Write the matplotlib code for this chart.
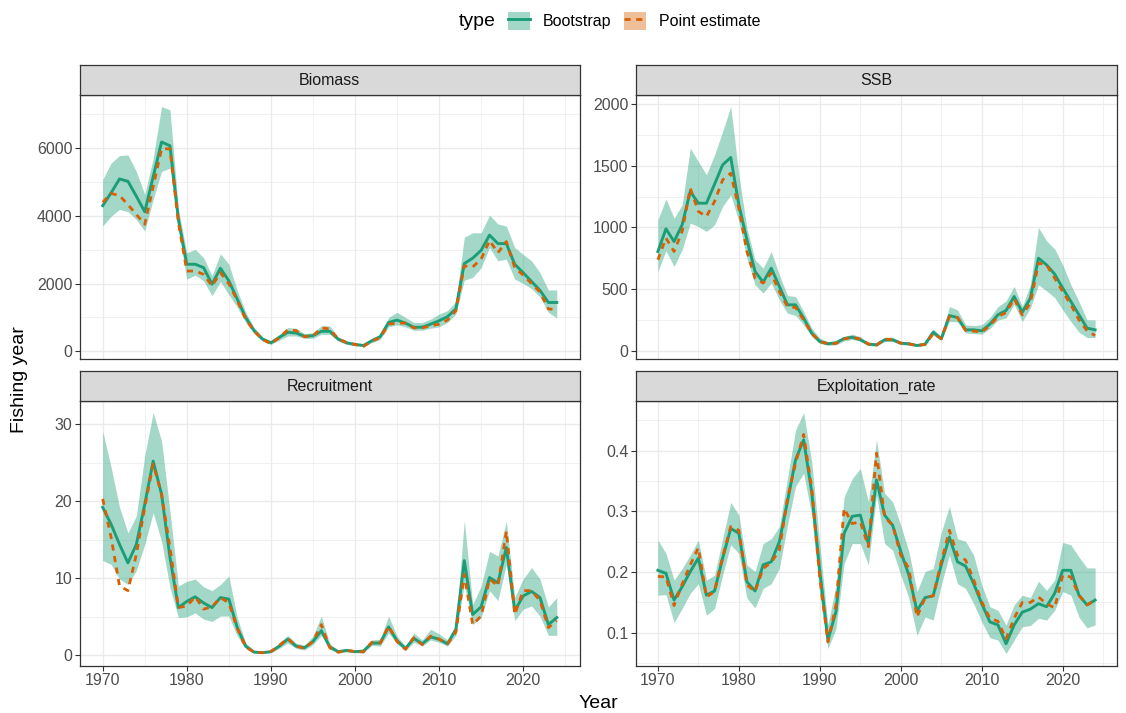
import numpy as np
import matplotlib
matplotlib.use("Agg")
import matplotlib.pyplot as plt
from matplotlib.patches import Patch
from matplotlib.lines import Line2D
from matplotlib.ticker import MultipleLocator

plt.rcParams['font.family'] = ['Liberation Sans', 'DejaVu Sans']

# data
years = np.arange(1970, 2025)

biomass_boot = [4300, 4680, 5090, 5020, 4580, 4120, 5150, 6180, 6070, 3900,
                2570, 2570, 2470, 1980, 2450, 2080, 1540, 1000, 610, 360,
                250, 410, 560, 540, 440, 460, 590, 590, 360, 250,
                200, 170, 310, 430, 850, 920, 830, 710, 710, 800,
                900, 1020, 1250, 2590, 2750, 2980, 3430, 3180, 3180, 2570,
                2320, 2060, 1800, 1440, 1440]
biomass_pt = [4400, 4660, 4600, 4330, 4040, 3750, 4860, 5980, 5980, 3800,
              2370, 2370, 2270, 1930, 2320, 2000, 1500, 950, 600, 350,
              220, 400, 630, 610, 430, 450, 690, 660, 360, 260,
              200, 140, 300, 400, 800, 830, 830, 690, 690, 750,
              800, 920, 1200, 2520, 2490, 2720, 3270, 2910, 3240, 2470,
              2250, 2000, 1750, 1250, 1230]
biomass_hi = [5070, 5560, 5780, 5800, 5310, 4630, 5700, 7230, 7130, 4200,
              2910, 3010, 2760, 2230, 2880, 2570, 1800, 1150, 700, 420,
              300, 500, 700, 680, 520, 550, 750, 750, 420, 300,
              250, 220, 380, 500, 1000, 1150, 1000, 850, 850, 950,
              1100, 1200, 1470, 3370, 3500, 3500, 4020, 3760, 3700, 3060,
              2860, 2670, 2320, 1810, 1810]
biomass_lo = [3700, 3990, 4190, 4120, 3890, 3550, 4480, 5310, 5410, 3600,
              2130, 2250, 2080, 1640, 2060, 1670, 1300, 850, 520, 300,
              200, 330, 450, 450, 380, 380, 500, 500, 300, 200,
              170, 140, 250, 350, 720, 780, 720, 620, 620, 680,
              720, 850, 1100, 2100, 2180, 2470, 3060, 2670, 2720, 2130,
              2000, 1850, 1600, 1150, 980]

ssb_boot = [805, 989, 886, 1022, 1292, 1197, 1197, 1351, 1508, 1568,
            1184, 900, 643, 557, 670, 522, 373, 373, 265, 143,
            75, 57, 65, 100, 110, 90, 54, 49, 89, 89,
            62, 57, 43, 54, 151, 97, 286, 270, 170, 170,
            162, 216, 292, 327, 440, 313, 427, 751, 697, 622,
            508, 400, 292, 184, 170]
ssb_pt = [738, 914, 805, 968, 1319, 1130, 1089, 1211, 1386, 1440,
          1157, 805, 589, 549, 630, 481, 359, 351, 251, 143,
          75, 57, 60, 95, 111, 95, 55, 45, 95, 90,
          62, 57, 42, 52, 140, 100, 278, 270, 165, 160,
          151, 205, 278, 310, 422, 292, 386, 711, 697, 589,
          480, 373, 251, 162, 124]
ssb_hi = [1062, 1232, 1076, 1184, 1643, 1535, 1427, 1589, 1778, 1981,
          1427, 995, 738, 670, 805, 616, 449, 440, 319, 184,
          103, 75, 80, 115, 135, 115, 65, 60, 110, 110,
          75, 70, 55, 70, 178, 115, 359, 332, 211, 205,
          211, 270, 359, 405, 522, 359, 535, 1000, 892, 827,
          697, 535, 400, 251, 251]
ssb_lo = [643, 811, 684, 819, 1035, 1008, 968, 1022, 1170, 1265,
          1050, 751, 535, 468, 549, 414, 305, 286, 211, 116,
          60, 45, 48, 80, 92, 80, 42, 38, 75, 75,
          50, 45, 35, 42, 125, 85, 238, 235, 145, 140,
          135, 180, 250, 265, 378, 238, 346, 535, 486, 432,
          332, 238, 151, 108, 108]

rec_boot = [19.2, 17.0, 14.4, 12.0, 14.4, 19.6, 25.2, 20.9, 12.7, 6.2,
            7.0, 7.6, 6.8, 6.2, 7.5, 7.3, 3.6, 1.2, 0.43, 0.35,
            0.48, 1.2, 2.1, 1.2, 1.0, 1.8, 3.2, 1.1, 0.48, 0.65,
            0.48, 0.56, 1.6, 1.6, 3.7, 1.9, 0.9, 2.2, 1.5, 2.4,
            2.1, 1.5, 3.4, 12.3, 5.3, 6.3, 10.1, 9.4, 14.0, 5.8,
            7.7, 8.3, 7.5, 4.0, 4.9]
rec_pt = [20.3, 15.3, 9.0, 8.4, 13.1, 19.2, 24.8, 20.9, 14.0, 6.2,
          6.4, 7.6, 6.0, 6.3, 7.5, 6.8, 3.5, 1.1, 0.4, 0.35,
          0.5, 1.3, 2.2, 1.2, 0.9, 1.8, 4.0, 1.0, 0.4, 0.65,
          0.5, 0.45, 1.7, 1.6, 3.8, 1.8, 0.8, 2.3, 1.4, 2.5,
          2.1, 1.5, 3.0, 10.5, 4.0, 5.1, 9.9, 9.0, 16.1, 5.3,
          8.4, 8.4, 7.1, 3.6, 4.5]
rec_hi = [29.1, 24.4, 19.2, 15.9, 18.1, 25.9, 31.5, 27.8, 18.7, 9.0,
          9.6, 9.9, 8.9, 8.4, 9.2, 10.3, 4.9, 1.6, 0.6, 0.5,
          0.65, 1.6, 2.6, 1.6, 1.3, 2.5, 5.1, 1.5, 0.7, 0.85,
          0.7, 0.75, 2.0, 2.1, 5.1, 2.5, 1.2, 2.9, 2.0, 3.4,
          2.8, 2.0, 3.8, 17.5, 6.6, 9.0, 13.5, 12.9, 17.4, 7.5,
          9.9, 11.4, 9.9, 6.3, 7.5]
rec_lo = [12.3, 11.8, 9.9, 9.2, 11.0, 14.4, 18.5, 14.8, 8.8, 4.9,
          5.0, 5.5, 4.7, 4.4, 5.1, 5.1, 2.5, 0.9, 0.3, 0.25,
          0.35, 0.9, 1.6, 0.9, 0.7, 1.4, 2.6, 0.8, 0.3, 0.45,
          0.35, 0.3, 1.3, 1.2, 2.9, 1.5, 0.6, 1.7, 1.2, 2.0,
          1.7, 1.2, 2.6, 9.2, 4.0, 4.9, 8.4, 7.1, 11.8, 4.5,
          6.0, 6.4, 5.1, 2.6, 2.6]

expl_boot = [0.203, 0.198, 0.154, 0.176, 0.201, 0.223, 0.162, 0.169, 0.223, 0.272,
             0.264, 0.184, 0.169, 0.212, 0.217, 0.250, 0.316, 0.385, 0.418, 0.332,
             0.201, 0.088, 0.135, 0.264, 0.292, 0.294, 0.247, 0.352, 0.294, 0.277,
             0.234, 0.195, 0.136, 0.158, 0.161, 0.212, 0.258, 0.217, 0.210, 0.181,
             0.148, 0.118, 0.113, 0.082, 0.113, 0.134, 0.139, 0.148, 0.143, 0.165,
             0.203, 0.203, 0.162, 0.146, 0.154]
expl_pt = [0.193, 0.192, 0.145, 0.180, 0.212, 0.240, 0.159, 0.168, 0.225, 0.275,
           0.269, 0.179, 0.168, 0.206, 0.216, 0.236, 0.321, 0.379, 0.427, 0.338,
           0.190, 0.085, 0.146, 0.305, 0.280, 0.283, 0.242, 0.396, 0.291, 0.277,
           0.228, 0.206, 0.126, 0.158, 0.161, 0.217, 0.269, 0.228, 0.220, 0.187,
           0.151, 0.124, 0.119, 0.090, 0.124, 0.150, 0.150, 0.159, 0.148, 0.141,
           0.195, 0.192, 0.162, 0.146, 0.154]
expl_hi = [0.253, 0.231, 0.187, 0.206, 0.228, 0.253, 0.187, 0.195, 0.255, 0.315,
           0.294, 0.212, 0.201, 0.247, 0.255, 0.275, 0.354, 0.434, 0.463, 0.382,
           0.245, 0.113, 0.179, 0.324, 0.354, 0.371, 0.316, 0.418, 0.330, 0.316,
           0.277, 0.234, 0.168, 0.201, 0.206, 0.266, 0.308, 0.255, 0.251, 0.228,
           0.179, 0.143, 0.137, 0.113, 0.146, 0.162, 0.158, 0.185, 0.170, 0.187,
           0.249, 0.245, 0.225, 0.207, 0.207]
expl_lo = [0.162, 0.163, 0.117, 0.140, 0.165, 0.181, 0.129, 0.140, 0.195, 0.245,
           0.231, 0.157, 0.141, 0.173, 0.181, 0.206, 0.277, 0.341, 0.363, 0.294,
           0.162, 0.074, 0.107, 0.214, 0.247, 0.247, 0.212, 0.327, 0.247, 0.236,
           0.195, 0.157, 0.096, 0.126, 0.121, 0.179, 0.228, 0.181, 0.173, 0.148,
           0.118, 0.092, 0.088, 0.066, 0.088, 0.110, 0.112, 0.124, 0.121, 0.137,
           0.168, 0.162, 0.126, 0.108, 0.113]

green = '#1b9e77'
orange = '#d95f02'

W, H = 1126, 713
fig = plt.figure(figsize=(W / 100, H / 100), dpi=100)


def px_axes(x0, y0, x1, y1):
    return fig.add_axes([x0 / W, 1 - y1 / H, (x1 - x0) / W, (y1 - y0) / H])


panels = [
    ("Biomass", biomass_boot, biomass_pt, biomass_lo, biomass_hi, 2000, (80, 94.5, 579.5, 358.5), False),
    ("SSB", ssb_boot, ssb_pt, ssb_lo, ssb_hi, 500, (636, 94.5, 1117, 358.5), False),
    ("Recruitment", rec_boot, rec_pt, rec_lo, rec_hi, 10, (80, 400.5, 579.5, 665.5), True),
    ("Exploitation_rate", expl_boot, expl_pt, expl_lo, expl_hi, 0.1, (636, 400.5, 1117, 665.5), True),
]

for name, boot, pt, lo, hi, step, (x0, y0, x1, y1), bottom in panels:
    ax = px_axes(x0, y0, x1, y1)
    ax.fill_between(years, lo, hi, color=green, alpha=0.4, lw=0)
    ax.plot(years, boot, color=green, lw=2.1)
    ax.plot(years, pt, color=orange, lw=2.0, dashes=(2.2, 2.0))
    ax.margins(x=0.05, y=0.05)
    ax.xaxis.set_major_locator(MultipleLocator(10))
    ax.xaxis.set_minor_locator(MultipleLocator(5))
    ax.yaxis.set_major_locator(MultipleLocator(step))
    ax.yaxis.set_minor_locator(MultipleLocator(step / 2))
    ax.grid(which='major', color='#ebebeb', lw=1.0)
    ax.grid(which='minor', color='#ebebeb', lw=0.5)
    ax.set_axisbelow(True)
    for s in ax.spines.values():
        s.set_color('#333333')
        s.set_linewidth(0.9)
    ax.tick_params(which='major', length=3.5, width=0.8, color='#333333',
                   labelsize=11.5, labelcolor='#4d4d4d', pad=2)
    ax.tick_params(which='minor', length=0)
    if name == "Exploitation_rate":
        ax.yaxis.set_major_formatter(lambda v, p: f"{v:.1f}")
    if not bottom:
        ax.tick_params(axis='x', which='both', bottom=False, labelbottom=False)

    # facet strip
    sy0 = y0 - 30 if not bottom else y0 - 29.5
    st = px_axes(x0, sy0, x1, y0)
    st.set_facecolor('#d9d9d9')
    st.set_xticks([])
    st.set_yticks([])
    for s in st.spines.values():
        s.set_color('#333333')
        s.set_linewidth(0.9)
    st.text(0.5, 0.48, name, ha='center', va='center', fontsize=11.5,
            color='#1a1a1a', transform=st.transAxes)

fig.text(598 / W, 1 - 703 / H, "Year", ha='center', va='center', fontsize=14)
fig.text(20 / W, 1 - 380 / H, "Fishing year", ha='center', va='center',
         fontsize=14, rotation=90)

# legend
fig.text(477 / W, 1 - 21 / H, "type", ha='center', va='center', fontsize=14)
h_boot = (Patch(facecolor=green, alpha=0.4, lw=0), Line2D([], [], color=green, lw=2.1))
h_pt = (Patch(facecolor=orange, alpha=0.4, lw=0),
        Line2D([], [], color=orange, lw=2.0, dashes=(2.2, 2.0)))
fig.legend([h_boot, h_pt], ["Bootstrap", "Point estimate"], ncol=2,
           loc='center left', bbox_to_anchor=(508 / W, 1 - 21 / H),
           frameon=False, fontsize=11.5, handlelength=1.4, handleheight=1.45,
           handletextpad=0.8, columnspacing=0.75, borderaxespad=0, borderpad=0)

fig.savefig("out.png", dpi=100)
